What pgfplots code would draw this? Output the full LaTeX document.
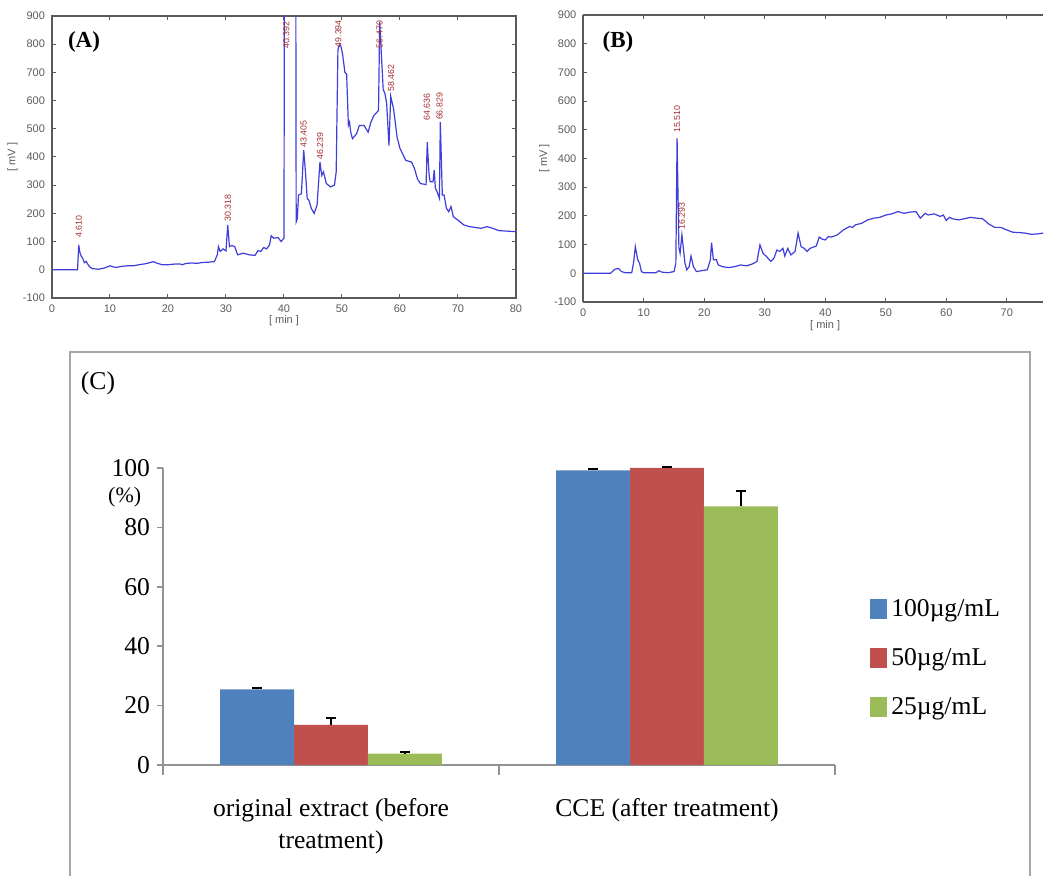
\documentclass[border=0pt]{standalone}
\usepackage{pgfplots}
\pgfplotsset{compat=1.18}
\usepackage{fontspec}
\setmainfont{Liberation Serif}
\newfontfamily\sansA{Liberation Sans}
\definecolor{chrom}{RGB}{62,62,218}
\definecolor{peakred}{RGB}{165,45,45}
\definecolor{frameg}{RGB}{90,90,90}
\definecolor{c1}{HTML}{4F81BD}
\definecolor{c2}{HTML}{C0504D}
\definecolor{c3}{HTML}{9BBB59}
\newcommand\chromfont{\sansA\fontsize{5.5}{6}\selectfont}
\newcommand\peakfont{\sansA\fontsize{4.4}{5}\selectfont}
\newcommand\cfont{\fontsize{12.8}{16}\selectfont}
\tikzset{peak/.style={rotate=90, anchor=west, inner sep=0pt, font=\peakfont, text=peakred}}
\pgfplotsset{chromaxis/.style={
    scale only axis, ymin=-100, ymax=900,
    xtick={0,10,...,80}, ytick={-100,0,...,900},
    tick align=inside, major tick length=2pt,
    tick style={frameg, line width=0.5pt},
    axis line style={-, frameg, line width=0.9pt},
    tick label style={font=\chromfont, text=frameg},
    /pgf/number format/assume math mode=true,
    xlabel={[ min ]}, ylabel={[ mV ]},
    label style={font=\chromfont, text=frameg},
    ylabel style={anchor=center},
}}

\begin{document}
\begin{tikzpicture}
\useasboundingbox (0,0) rectangle (522pt,438pt);

% (A) original extract
\begin{axis}[chromaxis, at={(26pt,289pt)}, anchor=south west,
    width=232pt, height=141pt, xmin=0, xmax=80,
    xlabel style={at={(axis description cs:0.5,-0.082)}, anchor=center},
    ylabel style={at={(axis description cs:-0.085,0.5)}},
]
\addplot[chrom, line width=0.6pt] coordinates {
(0,0)(4.4,0)(4.55,60)(4.61,88)(4.8,62)(5.0,50)(5.3,40)(5.6,25)(5.9,30)(6.1,22)
(6.5,10)(7,4)(8,2)(9,6)(10,14)(11,8)(12,12)(13,14)(14,14)(15,18)(16,21)(17,26)
(17.5,29)(18,24)(19,18)(20,18)(21,20)(22,21)(22.5,18)(23,22)(24,24)(25,23)
(26,26)(27,27)(28,29)(28.5,53)(28.7,82)(29,65)(29.5,74)(30,67)(30.3,159)
(30.6,82)(31,86)(31.5,82)(32,53)(33,59)(34,53)(35,51)(35.5,68)(36,65)(36.5,79)
(37,74)(37.5,88)(37.8,121)(38.2,112)(39,114)(39.5,100)(40,112)(40.1,1500)
(42.0,1500)(42.1,170)(42.3,182)(42.5,265)(43,270)(43.4,424)(43.7,347)(44,253)
(44.3,247)(44.7,218)(45.2,200)(45.7,229)(46.2,382)(46.5,335)(46.8,347)
(47.3,306)(48,294)(48.7,300)(49,347)(49.3,782)(49.6,800)(49.8,794)(50.1,765)
(50.5,700)(50.8,694)(51.1,512)(51.3,524)(51.5,488)(51.8,465)(52.5,482)(53,512)
(53.8,512)(54.5,488)(55,524)(55.5,547)(56.3,565)(56.5,880)(56.8,760)(57.1,640)
(57.4,625)(57.7,590)(58.1,440)(58.4,615)(58.9,570)(59.5,470)(60,430)(61,388)
(62,382)(62.5,359)(63,323)(63.5,306)(64.5,302)(64.7,453)(65.0,340)(65.2,312)
(65.7,312)(65.9,353)(66.1,290)(66.4,276)(66.8,253)(66.95,524)(67.3,265)
(67.6,265)(68,218)(68.4,206)(68.8,224)(69.2,188)(70,176)(71,159)(72,153)
(73,150)(74,147)(75,153)(76,147)(77,139)(80,135)
};
\node[peak] at (axis cs:4.61,112) {4.610};
\node[peak] at (axis cs:30.32,170) {30.318};
\node[peak] at (axis cs:40.39,782) {40.392};
\node[peak] at (axis cs:43.40,432) {43.405};
\node[peak] at (axis cs:46.24,390) {46.239};
\node[peak] at (axis cs:49.39,788) {49.394};
\node[peak] at (axis cs:56.47,785) {56.470};
\node[peak] at (axis cs:58.46,630) {58.462};
\node[peak] at (axis cs:64.64,528) {64.636};
\node[peak] at (axis cs:66.83,530) {66.829};
\end{axis}
\node[font=\bfseries\fontsize{11.5}{13}\selectfont] at (42pt,417pt) {(A)};

% (B) CCE
\begin{axis}[chromaxis, at={(291.65pt,287pt)}, anchor=south west,
    width=229.9pt, height=143.5pt, xmin=0, xmax=76,
    axis x line*=box, axis y line*=left,
    xlabel style={at={(axis description cs:0.526,-0.082)}, anchor=center},
    ylabel style={at={(axis description cs:-0.085,0.5)}},
]
\addplot[chrom, line width=0.6pt] coordinates {
(0,0)(4.5,0)(5.2,14)(5.8,17)(6.3,6)(7,2)(8,2)(8.3,35)(8.6,93)(9,47)(9.3,35)
(9.6,6)(10,2)(12,2)(12.5,9)(13,4)(14,2)(15,6)(15.3,35)(15.5,470)(15.8,90)
(16.0,70)(16.3,134)(16.8,35)(17.1,12)(17.5,23)(17.8,60)(18.2,23)(18.7,6)
(19.5,9)(20.5,12)(21.0,47)(21.2,107)(21.5,47)(22,47)(22.3,29)(23,23)(24,20)
(25,23)(26,29)(27,26)(28,33)(28.7,41)(29.2,99)(29.7,70)(30.3,58)(31,41)
(31.5,52)(32,81)(32.5,76)(33,87)(33.3,60)(33.8,87)(34.3,64)(35,76)(35.5,140)
(36,93)(36.5,87)(37,76)(37.5,87)(38,91)(38.5,95)(39,126)(39.5,119)(40,116)
(40.5,128)(41,126)(42,134)(43,151)(44,163)(44.5,160)(45,169)(46,174)(47,186)
(48,192)(49,195)(50,203)(51,207)(52,215)(53,209)(54,213)(55,215)(55.7,192)
(56.5,209)(57,203)(58,207)(59,198)(59.5,203)(60,184)(60.5,195)(61,190)
(62,186)(63,190)(64,195)(65,192)(66,190)(67,172)(68,160)(69,160)(70,151)
(71,143)(72,142)(73,140)(74,136)(75,137)(76,140)
};
\node[peak] at (axis cs:15.51,488) {15.510};
\node[peak] at (axis cs:16.29,151) {16.293};
\end{axis}
\node[font=\bfseries\fontsize{11.5}{13}\selectfont] at (309pt,417pt) {(B)};

% (C) bar chart
\draw[gray!70, line width=0.8pt] (35pt,-5pt) rectangle (515pt,262pt);
\node[font=\cfont] at (49pt,246.5pt) {(C)};
\begin{axis}[at={(81.5pt,55.5pt)}, anchor=south west,
    width=336pt, height=148.5pt, scale only axis,
    xmin=-0.5, xmax=1.5, ymin=0, ymax=100, clip=false,
    axis x line*=bottom, axis y line*=left,
    axis line style={-, gray!85, line width=0.8pt},
    ybar=0pt, bar width=0.22,
    ytick={0,20,...,100},
    xtick={0,1},
    xticklabels={original extract (before\\treatment), CCE (after treatment)},
    minor xtick={-0.5,0.5,1.5},
    tick align=outside, major tick length=3pt, minor tick length=5pt,
    major x tick style={draw=none},
    tick style={gray!85, line width=0.8pt},
    tick label style={font=\cfont},
    xticklabel style={align=center, yshift=-10pt},
    /pgf/number format/assume math mode=true,
    ylabel={(\%)},
    ylabel style={rotate=-90, at={(axis description cs:-0.057,0.902)}, anchor=center, font=\fontsize{11}{13}\selectfont},
    legend style={at={(1.052,0.36)}, anchor=west, draw=none, fill=none,
        font=\cfont, row sep=10.5pt, inner xsep=0pt},
    legend cell align=left,
    legend image code/.code={\fill[#1] (0pt,-5pt) rectangle (8.5pt,5pt);},
    error bars/error mark=|,
    error bars/error bar style={black, line width=0.9pt},
    error bars/error mark options={black, mark size=2.5pt, line width=1pt},
]
\addplot[fill=c1, draw=none, error bars/.cd, y dir=plus, y explicit]
  coordinates {(0,25.5) +- (0,0.4) (1,99.2) +- (0,0.5)};
\addplot[fill=c2, draw=none, error bars/.cd, y dir=plus, y explicit]
  coordinates {(0,13.5) +- (0,2.4) (1,100) +- (0,0.3)};
\addplot[fill=c3, draw=none, error bars/.cd, y dir=plus, y explicit]
  coordinates {(0,3.8) +- (0,0.6) (1,87.1) +- (0,5.3)};
\legend{100µg/mL, 50µg/mL, 25µg/mL}
\end{axis}
\end{tikzpicture}
\end{document}
